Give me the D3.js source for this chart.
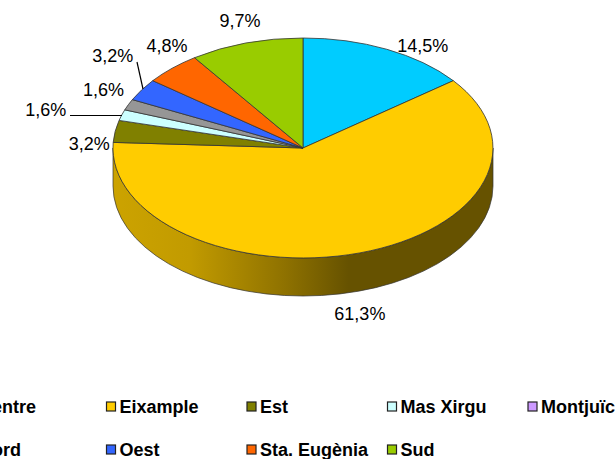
<!DOCTYPE html>
<html>
<head>
<meta charset="utf-8">
<script src="https://cdnjs.cloudflare.com/ajax/libs/d3/7.8.5/d3.min.js"></script>
<style>
html, body { margin: 0; padding: 0; background: #fff; overflow: hidden; }
text { font-family: "Liberation Sans", Arial, sans-serif; fill: #000; }
</style>
</head>
<body>
<svg id="chart" width="616" height="459"></svg>
<script>
// Counts per district, the chart labels are their share of the total
const districts = ["Centre", "Eixample", "Est", "Mas Xirgu", "Montjuïc", "Nord", "Oest", "Sta. Eugènia", "Sud"];
const counts = [9, 38, 2, 1, 0, 1, 2, 3, 6];
const colors = ["#00CCFF", "#FFCC00", "#808000", "#CCFFFF", "#CC99FF", "#969696", "#3366FF", "#FF6600", "#99CC00"];

const width = 616, height = 459;
const cx = 303, cy = 148, rx = 190, ry = 110, depth = 38;

const svg = d3.select("#chart");
const defs = svg.append("defs");

// Shading along the visible side of the pie
const grad = defs.append("linearGradient")
    .attr("id", "side")
    .attr("gradientUnits", "userSpaceOnUse")
    .attr("x1", cx - rx).attr("x2", cx + rx)
    .attr("y1", 0).attr("y2", 0);
[[0, "#CCA300"], [0.2, "#C29B00"], [0.45, "#8F7200"], [0.62, "#665200"], [1, "#665200"]].forEach(s => {
    grad.append("stop").attr("offset", s[0]).attr("stop-color", s[1]);
});

const total = d3.sum(counts);
const pie = d3.pie().sort(null).value(d => d.count);
const slices = pie(districts.map((name, i) => ({ name, count: counts[i], color: colors[i] })));

// Unit circle squashed into the ellipse of the top face
const arc = d3.arc().innerRadius(0).outerRadius(1);
const xPos = d3.scaleLinear().domain([-1, 1]).range([cx - rx, cx + rx]);
const yPos = d3.scaleLinear().domain([-1, 1]).range([cy - ry, cy + ry]);

// Side wall: lower half of the ellipse, pushed down by the depth
svg.append("path")
    .attr("d", `M${xPos(-1)},${cy} A${rx},${ry} 0 0 0 ${xPos(1)},${cy} L${xPos(1)},${cy + depth} A${rx},${ry} 0 0 1 ${xPos(-1)},${cy + depth} Z`)
    .attr("fill", "url(#side)")
    .attr("stroke", "#333")
    .attr("stroke-width", 0.7);

svg.append("g")
    .attr("transform", `translate(${cx},${cy}) scale(${rx},${ry})`)
    .selectAll("path")
    .data(slices.filter(d => d.data.count > 0))
    .join("path")
    .attr("d", arc)
    .attr("fill", d => d.data.color)
    .attr("stroke", "#333")
    .attr("stroke-width", 0.8)
    .attr("vector-effect", "non-scaling-stroke");

// Label nudge from the rim of each slice, as [dx, dy to the baseline]
const labelNudge = {
    "Centre": [36, 3],
    "Eixample": [0, 67],
    "Est": [-26, 19],
    "Mas Xirgu": [-76, 1],
    "Nord": [-25, -9],
    "Oest": [-29, -28],
    "Sta. Eugènia": [-5, -16],
    "Sud": [-6, -16]
};
const pct = d => (d / total * 100).toFixed(1).replace(".", ",") + "%";
const angleOf = d => (d.startAngle + d.endAngle) / 2;

svg.append("g")
    .selectAll("text")
    .data(slices.filter(d => d.data.count > 0))
    .join("text")
    .attr("x", d => xPos(Math.sin(angleOf(d))) + labelNudge[d.data.name][0])
    .attr("y", d => yPos(-Math.cos(angleOf(d))) + labelNudge[d.data.name][1])
    .attr("text-anchor", "middle")
    .style("font-size", "18px")
    .text(d => pct(d.data.count));

// Leader lines of the two crowded labels
const line = d3.line();
svg.append("g")
    .selectAll("path")
    .data([[[70, 115.5], [122, 115.5]], [[137, 62], [143, 89]]])
    .join("path")
    .attr("d", line)
    .attr("fill", "none")
    .attr("stroke", "#000")
    .attr("stroke-width", 1.2);

// Legend runs off the left edge, same as the picture
const legendCol = d3.scaleLinear().domain([0, 4]).range([-34, 528]);
const legendRow = d3.scaleLinear().domain([0, 1]).range([407, 450]);
const legend = svg.append("g")
    .selectAll("g")
    .data(slices)
    .join("g")
    .attr("transform", (d, i) => `translate(${legendCol(i < 5 ? i : i - 5)},${legendRow(i < 5 ? 0 : 1)})`);

legend.append("rect")
    .attr("x", 0).attr("y", -5)
    .attr("width", 9).attr("height", 9)
    .attr("fill", d => d.data.color)
    .attr("stroke", "#222")
    .attr("stroke-width", 1.2);

legend.append("text")
    .attr("x", 13).attr("y", 6)
    .style("font-size", "18px")
    .style("font-weight", "bold")
    .text(d => d.data.name);
</script>
</body>
</html>
